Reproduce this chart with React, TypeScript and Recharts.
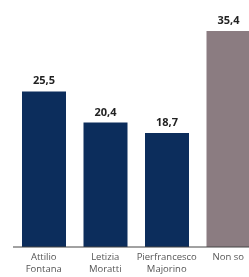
import { BarChart, Bar, XAxis, YAxis, Cell, LabelList } from "recharts";

const categories = ["Attilio\nFontana", "Letizia\nMoratti", "Pierfrancesco\nMajorino", "Non so"];
const values = [25.5, 20.4, 18.7, 35.4];
const colors = ["#0c2d5c", "#0c2d5c", "#0c2d5c", "#8b7c81"];

const data = categories.map((name, i) => ({ name, value: values[i] }));

// tick su due righe
const MultiTick = (props: any) => {
  const { x, y, payload } = props;
  const lines = String(payload.value).split("\n");
  return (
    <text x={x} y={y} textAnchor="middle" fill="#555" fontSize={9.5} fontFamily="Open Sans, sans-serif">
      {lines.map((l: string, i: number) => (
        <tspan key={i} x={x} dy={i === 0 ? 13 : 12}>
          {l}
        </tspan>
      ))}
    </text>
  );
};

export default function App() {
  return (
    <div style={{ position: "fixed", top: 0, left: 0, width: 249, height: 277, overflow: "hidden" }}>
      <BarChart
        width={262}
        height={277}
        data={data}
        margin={{ top: 31, right: 3, bottom: 0, left: 13 }}
        barSize={44}
      >
        <XAxis
          dataKey="name"
          height={30}
          interval={0}
          tick={<MultiTick />}
          tickLine={false}
          tickSize={0}
          tickMargin={0}
          axisLine={{ stroke: "#444" }}
        />
        <YAxis hide domain={[0, 35.4]} />
        <Bar dataKey="value" isAnimationActive={false}>
          {data.map((d, i) => (
            <Cell key={d.name} fill={colors[i]} />
          ))}
          <LabelList
            dataKey="value"
            position="top"
            offset={7}
            formatter={(v: any) => String(v).replace(".", ",")}
            style={{ fill: "#222", fontSize: 11, fontWeight: 700, fontFamily: "Open Sans, sans-serif" }}
          />
        </Bar>
      </BarChart>
    </div>
  );
}
